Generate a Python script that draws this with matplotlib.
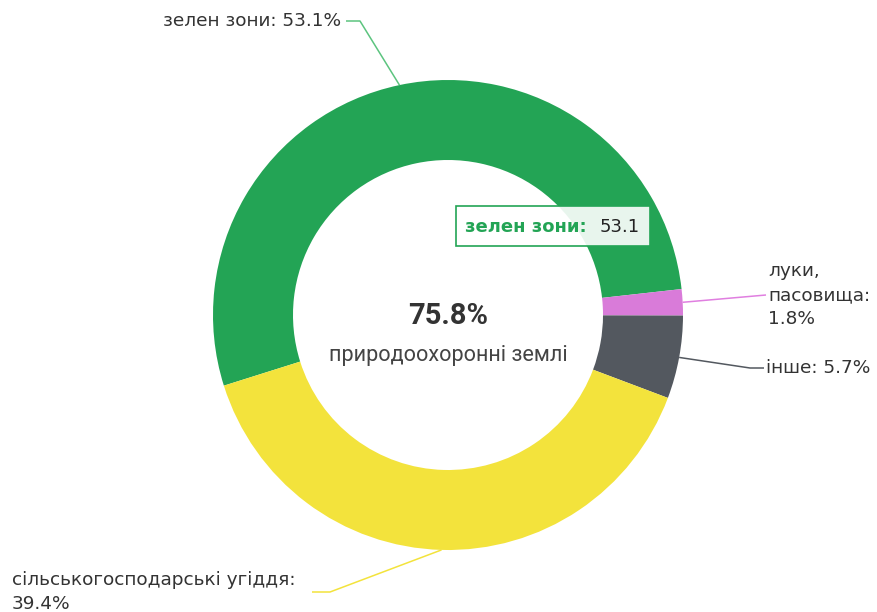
import numpy as np
import matplotlib as mpl
mpl.use('Agg')
import matplotlib.pyplot as plt
from matplotlib.patches import FancyBboxPatch

# data
cats = ['зелен зони', 'луки, пасовища', 'інше', 'сільськогосподарські угіддя']
vals = [53.1, 1.8, 5.7, 39.4]
colors = ['#23a455', '#d97bd9', '#53585f', '#f3e33c']
line_colors = ['#5cc47f', '#e07fe0', '#53585f', '#f3e33c']
label_texts = ['зелен зони: 53.1%', 'луки,\nпасовища:\n1.8%', 'інше: 5.7%',
               'сільськогосподарські угіддя:\n39.4%']
center_value = '75.8%'
center_label = 'природоохоронні землі'
tip_name = 'зелен зони:'
tip_value = '53.1'

W, H = 877, 612
fig = plt.figure(figsize=(W / 100, H / 100), dpi=100)
ax = fig.add_axes([0, 0, 1, 1])

cx, cy, R, ring = 448, H - 315, 235, 80
start = 197.5
wedges, _ = ax.pie(vals, colors=colors, startangle=start, counterclock=False,
                   center=(cx, cy), radius=R, frame=True,
                   wedgeprops=dict(width=ring, linewidth=0))
ax.set_xlim(0, W)
ax.set_ylim(0, H)
ax.set_aspect('equal')
ax.axis('off')

# label positions (pixel coords, y from top) and leader bends
lab_pos = [(163, 21), (768, 295), (766, 368), (12, 592)]
bends = [[(360, 21), (346, 21)], [(766, 295)], [(750, 368), (764, 368)],
         [(330, 592), (312, 592)]]

for w, col, txt, (lx, ly), bend in zip(wedges, line_colors, label_texts, lab_pos, bends):
    mid = np.deg2rad((w.theta1 + w.theta2) / 2)
    px = cx + R * np.cos(mid)
    py = cy + R * np.sin(mid)
    xs = [px] + [b[0] for b in bend]
    ys = [py] + [H - b[1] for b in bend]
    ax.plot(xs, ys, color=col, lw=1.1, solid_capstyle='butt')
    ax.text(lx, H - ly, txt, ha='left', va='center', fontsize=13.3, color='#333333',
            family='DejaVu Sans', linespacing=1.4)

ax.text(cx, H - 316, center_value, ha='center', va='center', fontsize=21,
        fontweight='bold', color='#333333', family='Roboto')
ax.text(cx, H - 355, center_label, ha='center', va='center', fontsize=15.6,
        color='#444444', family='Roboto')

# tooltip
box = FancyBboxPatch((456, H - 246), 194, 40, boxstyle='square,pad=0',
                     facecolor='white', alpha=0.9, edgecolor='none', zorder=5)
ax.add_patch(box)
ax.add_patch(FancyBboxPatch((456, H - 246), 194, 40, boxstyle='square,pad=0',
                            facecolor='none', edgecolor='#23a455', lw=1.2, zorder=6))
ax.text(465, H - 227, tip_name, ha='left', va='center', fontsize=13,
        fontweight='bold', color='#23a455', family='DejaVu Sans', zorder=7)
ax.text(600, H - 227, tip_value, ha='left', va='center', fontsize=13,
        color='#222222', family='DejaVu Sans', zorder=7)

fig.savefig('out.png', dpi=100)
